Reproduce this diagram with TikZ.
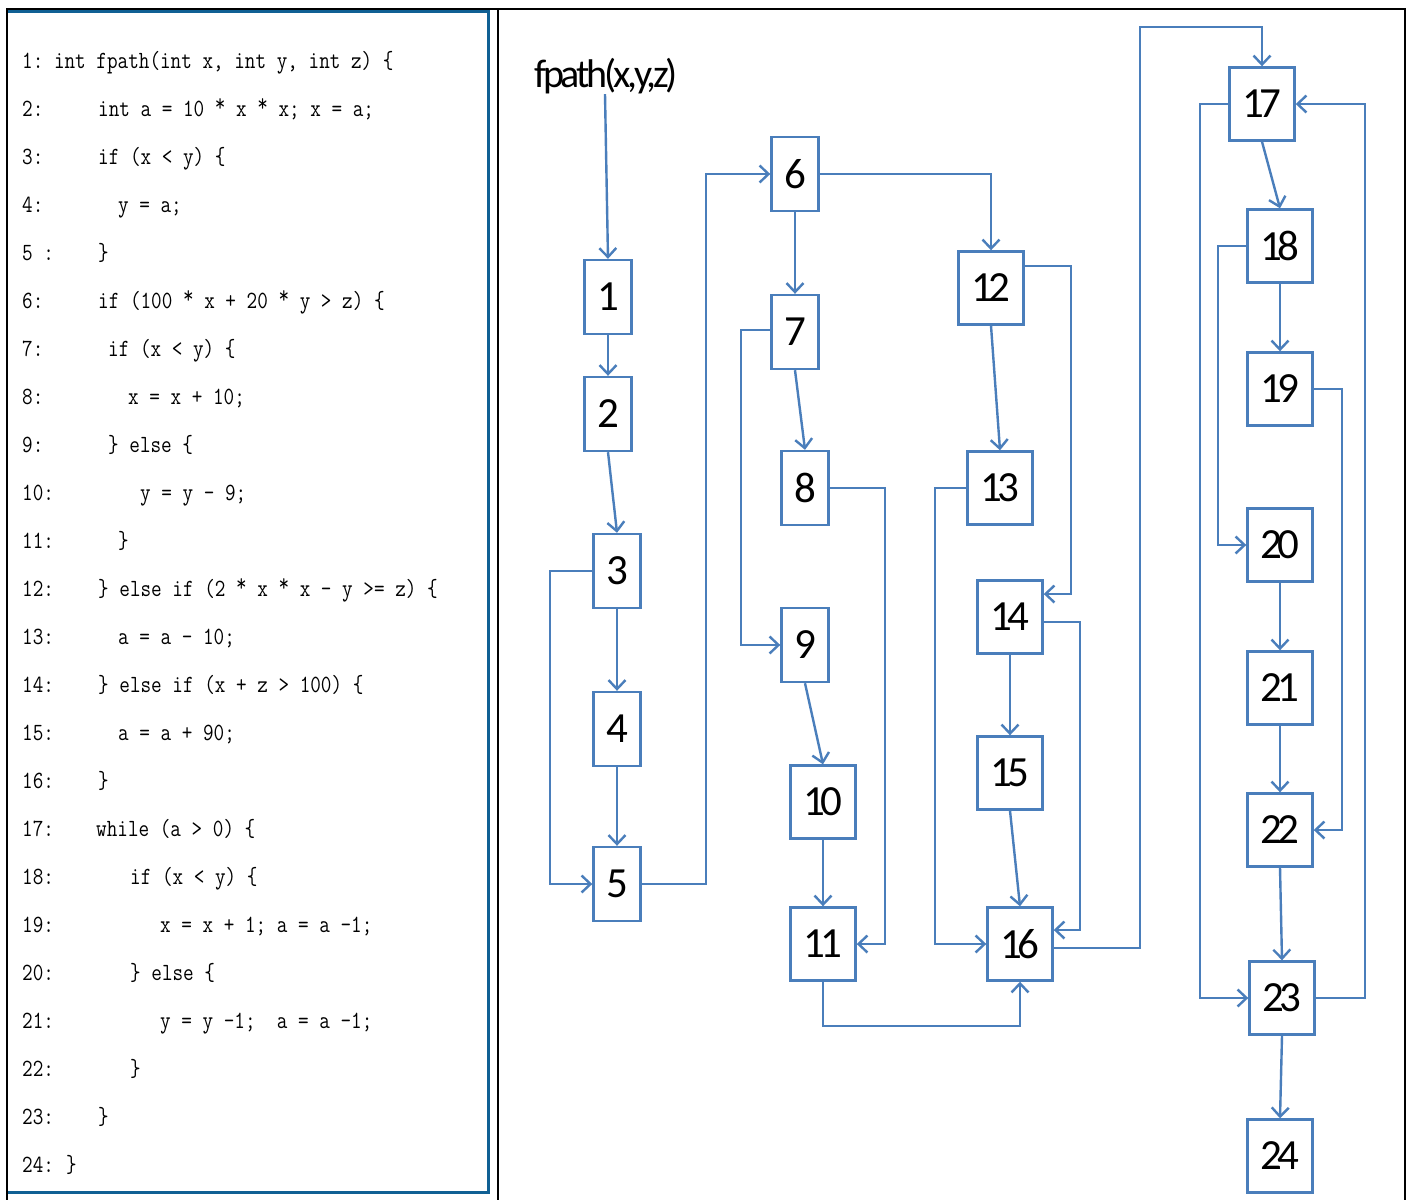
\documentclass[tikz,border=0pt]{standalone}
\usepackage{fontspec}
\usepackage{graphicx}
\usetikzlibrary{arrows.meta}
\newfontfamily\numfont{Carlito}[LetterSpace=-10]
\newfontfamily\titlefont{Carlito}[LetterSpace=-8]
\definecolor{edgeblue}{RGB}{74,126,187}
\definecolor{panelblue}{RGB}{16,96,148}
\newcommand\tall[1]{\scalebox{1}[1.2]{#1}}
\newcommand\st{\raisebox{0.18em}{*}}
\begin{document}
\begin{tikzpicture}[x=1pt,y=-1pt,
  box/.style={draw=edgeblue, line width=2.4pt, inner sep=0pt, minimum width=47pt, minimum height=74pt, font=\numfont\fontsize{43}{43}\selectfont},
  wbox/.style={box, minimum width=65pt, minimum height=73pt},
  conn/.style={draw=edgeblue, line width=2.4pt, -{Straight Barb[length=9pt,width=17pt]}},
  code/.style={anchor=base west, inner sep=0pt, font=\ttfamily\fontsize{20.6}{22}\selectfont\frenchspacing},
  frameblack/.style={draw=black, line width=2.2pt},
  frameblue/.style={draw=panelblue, line width=3pt},
  title/.style={inner sep=0pt, font=\titlefont\fontsize{40}{40}\selectfont}
]
\useasboundingbox (0,0) rectangle (1413,1200);
\fill[white] (0,0) rectangle (1413,1200);

% frames
\draw[frameblack] (6,9) -- (1406,9);
\draw[frameblack] (7,8) -- (7,1200);
\draw[frameblack] (498,8) -- (498,1200);
\draw[frameblack] (1405,8) -- (1405,1200);
\draw[frameblue] (8,11.5) -- (488.5,11.5) -- (488.5,1192.5) -- (8,1192.5);

% code
\node[code] (l1)  at (22,68)   {\tall{1: int fpath(int x, int y, int z) \{}};
\node[code] (l2n) at (22,116)  {\tall{2:}};
\node[code] (l2)  at (98,116)  {\tall{int a = 10 \st{} x \st{} x; x = a;}};
\node[code] (l3n) at (22,164)  {\tall{3:}};
\node[code] (l3)  at (98,164)  {\tall{if (x < y) \{}};
\node[code] (l4n) at (22,212)  {\tall{4:}};
\node[code] (l4)  at (118,212) {\tall{y = a;}};
\node[code] (l5n) at (22,260)  {\tall{5 :}};
\node[code] (l5)  at (98,260)  {\tall{\}}};
\node[code] (l6n) at (22,308)  {\tall{6:}};
\node[code] (l6)  at (98,308)  {\tall{if (100 \st{} x + 20 \st{} y > z) \{}};
\node[code] (l7n) at (22,356)  {\tall{7:}};
\node[code] (l7)  at (108,356) {\tall{if (x < y) \{}};
\node[code] (l8n) at (22,404)  {\tall{8:}};
\node[code] (l8)  at (128,404) {\tall{x = x + 10;}};
\node[code] (l9n) at (22,452)  {\tall{9:}};
\node[code] (l9)  at (108,452) {\tall{\} else \{}};
\node[code] (l10n) at (22,500) {\tall{10:}};
\node[code] (l10) at (140,500) {\tall{y = y - 9;}};
\node[code] (l11n) at (22,548) {\tall{11:}};
\node[code] (l11) at (118,548) {\tall{\}}};
\node[code] (l12n) at (22,596) {\tall{12:}};
\node[code] (l12) at (98,596)  {\tall{\} else if (2 \st{} x \st{} x - y >= z) \{}};
\node[code] (l13n) at (22,644) {\tall{13:}};
\node[code] (l13) at (118,644) {\tall{a = a - 10;}};
\node[code] (l14n) at (22,692) {\tall{14:}};
\node[code] (l14) at (98,692)  {\tall{\} else if (x + z > 100) \{}};
\node[code] (l15n) at (22,740) {\tall{15:}};
\node[code] (l15) at (118,740) {\tall{a = a + 90;}};
\node[code] (l16n) at (22,788) {\tall{16:}};
\node[code] (l16) at (98,788)  {\tall{\}}};
\node[code] (l17n) at (22,836) {\tall{17:}};
\node[code] (l17) at (96,836)  {\tall{while (a > 0) \{}};
\node[code] (l18n) at (22,884) {\tall{18:}};
\node[code] (l18) at (130,884) {\tall{if (x < y) \{}};
\node[code] (l19n) at (22,932) {\tall{19:}};
\node[code] (l19) at (160,932) {\tall{x = x + 1; a = a -1;}};
\node[code] (l20n) at (22,980) {\tall{20:}};
\node[code] (l20) at (130,980) {\tall{\} else \{}};
\node[code] (l21n) at (22,1028) {\tall{21:}};
\node[code] (l21) at (160,1028) {\tall{y = y -1;\ \ a = a -1;}};
\node[code] (l22n) at (22,1076) {\tall{22:}};
\node[code] (l22) at (130,1076) {\tall{\}}};
\node[code] (l23n) at (22,1124) {\tall{23:}};
\node[code] (l23) at (98,1124) {\tall{\}}};
\node[code] (l24n) at (22,1172) {\tall{24:}};
\node[code] (l24) at (66,1172) {\tall{\}}};

% graph nodes
\node[title] (fp) at (606,76) {fpath(x,y,z)};
\node[box]  (n1)  at (608,297)  {1};
\node[box]  (n2)  at (608,414)  {2};
\node[box]  (n3)  at (617,571)  {3};
\node[box]  (n4)  at (617,729)  {4};
\node[box]  (n5)  at (617,884)  {5};
\node[box]  (n6)  at (795,174)  {6};
\node[box]  (n7)  at (795,332)  {7};
\node[box]  (n8)  at (805,488)  {8};
\node[box]  (n9)  at (805,645)  {9};
\node[wbox] (n10) at (823,802)  {10};
\node[wbox] (n11) at (823,944)  {11};
\node[wbox] (n12) at (991,288)  {12};
\node[wbox] (n13) at (1000,488) {13};
\node[wbox] (n14) at (1010,617) {14};
\node[wbox] (n15) at (1010,773) {15};
\node[wbox] (n16) at (1020,944) {16};
\node[wbox] (n17) at (1262,104) {17};
\node[wbox] (n18) at (1280,246) {18};
\node[wbox] (n19) at (1280,389) {19};
\node[wbox] (n20) at (1280,545) {20};
\node[wbox] (n21) at (1280,688) {21};
\node[wbox] (n22) at (1280,830) {22};
\node[wbox] (n23) at (1282,998) {23};
\node[wbox] (n24) at (1280,1156) {24};

% connectors
\draw[conn] ([xshift=-1pt]fp.south) -- (n1.north);
\draw[conn] (n1.south) -- (n2.north);
\draw[conn] (n2.south) -- (n3.north);
\draw[conn] (n3.west) -- (550,571) |- (n5.west);
\draw[conn] (n3.south) -- (n4.north);
\draw[conn] (n4.south) -- (n5.north);
\draw[conn] (n5.east) -- (706,884) |- (n6.west);
\draw[conn] (n6.south) -- (n7.north);
\draw[conn] (n6.east) -| (n12.north);
\draw[conn] (n7.south) -- (n8.north);
\draw[conn] ([yshift=2pt]n7.west) -- (741,330) |- (n9.west);
\draw[conn] (n8.east) -- (885,488) |- (n11.east);
\draw[conn] (n9.south) -- (n10.north);
\draw[conn] (n10.south) -- (n11.north);
\draw[conn] (n11.south) -- (823,1026) -| (n16.south);
\draw[conn] (n12.south) -- (n13.north);
\draw[conn] ([yshift=22pt]n12.east) -- (1071,266) |- ([yshift=23pt]n14.east);
\draw[conn] (n13.west) -- (935,488) |- (n16.west);
\draw[conn] (n14.south) -- (n15.north);
\draw[conn] ([yshift=-5pt]n14.east) -- (1080,622) |- ([yshift=14pt]n16.east);
\draw[conn] (n15.south) -- (n16.north);
\draw[conn] ([yshift=-4pt]n16.east) -- (1140,948) -- (1140,27) -| (n17.north);
\draw[conn] (n17.south) -- (n18.north);
\draw[conn] (n17.west) -- (1200,104) |- (n23.west);
\draw[conn] (n18.south) -- (n19.north);
\draw[conn] (n18.west) -- (1218,246) |- (n20.west);
\draw[conn] (n19.east) -- (1342,389) |- (n22.east);
\draw[conn] (n20.south) -- (n21.north);
\draw[conn] (n21.south) -- (n22.north);
\draw[conn] (n22.south) -- (n23.north);
\draw[conn] (n23.east) -- (1365,998) |- (n17.east);
\draw[conn] (n23.south) -- (n24.north);
\end{tikzpicture}
\end{document}
